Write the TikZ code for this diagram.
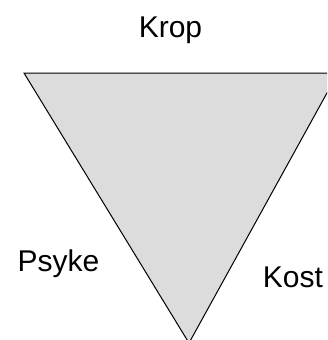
\documentclass[tikz,border=0pt]{standalone}
\usepackage{fontspec}
\setmainfont{Liberation Sans}
\definecolor{facegray}{HTML}{DCDCDC}
\begin{document}
\begin{tikzpicture}[x=1pt,y=-1pt,
  label/.style={font=\fontsize{30}{36}\selectfont, anchor=base, inner sep=0pt},
  face/.style={fill=facegray, draw=black, line width=1pt, line join=miter}]
  \useasboundingbox (0,0) rectangle (327,340);
  \clip (0,0) rectangle (327,340);
  % corners of the inverted triangle
  \coordinate (tl) at (24,73);
  \coordinate (tr) at (338,73);
  \coordinate (bt) at (189,343);
  \draw[face] (tl) -- (tr) -- (bt) -- cycle;
  % corner labels
  \node[label] (krop) at (170.5,37) {Krop};
  \node[label] (psyke) at (58.5,271) {Psyke};
  \node[label] (kost) at (293,287) {Kost};
\end{tikzpicture}
\end{document}
